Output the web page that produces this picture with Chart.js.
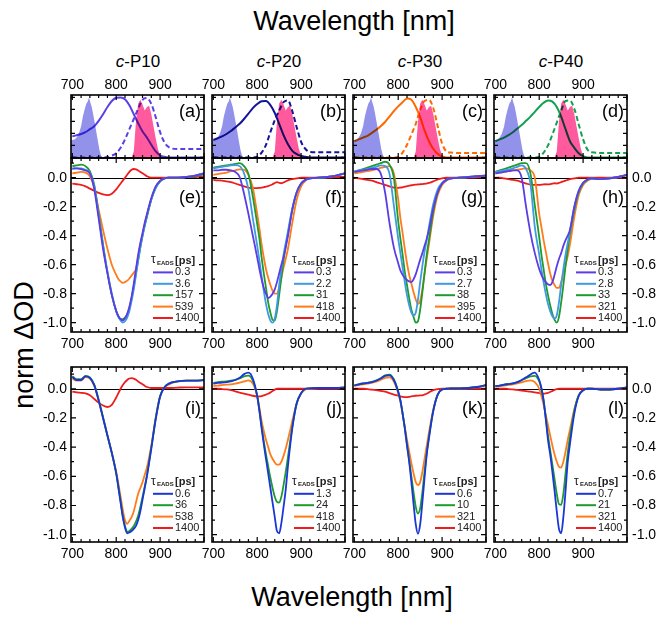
<!DOCTYPE html>
<html><head><meta charset="utf-8">
<script src="https://cdn.jsdelivr.net/npm/chart.js@4.4.0/dist/chart.umd.min.js"></script>
<style>
html,body{margin:0;padding:0;background:#fff;}
body{width:661px;height:620px;position:relative;overflow:hidden;font-family:"Liberation Sans",Arial,sans-serif;}
canvas{position:absolute;}
.t{position:absolute;color:#000;white-space:nowrap;transform:translate(-50%,-50%);line-height:1;}
</style></head><body>
<div class="t" style="left:354px;top:21px;font-size:27px">Wavelength [nm]</div>
<div class="t" style="left:352px;top:597px;font-size:27px">Wavelength [nm]</div>
<div class="t" style="left:24px;top:345px;font-size:27px;transform:translate(-50%,-50%) rotate(-90deg)">norm ΔOD</div>
<div class="t" style="left:138px;top:61px;font-size:17px"><i>c</i>-P10</div>
<div class="t" style="left:279px;top:61px;font-size:17px"><i>c</i>-P20</div>
<div class="t" style="left:420px;top:61px;font-size:17px"><i>c</i>-P30</div>
<div class="t" style="left:561px;top:61px;font-size:17px"><i>c</i>-P40</div>
<script>
// ---------- data ----------
const W = [700,710,720,730,740,750,760,770,780,790,800,805,810,815,820,825,830,835,840,845,850,855,860,865,870,880,890,900,910,920,940,960,980,1000];
const W1 = [700,710,720,730,740,750,760,770,780,790,800,810,820,830,840,850,860,870,880,890,900,910,920,940,960,980,1000];

// top row: absorption (solid) and emission (dashed)
const A_ABS = [0.35,0.37,0.39,0.42,0.47,0.52,0.61,0.72,0.84,0.94,0.995,1.0,0.97,0.87,0.72,0.57,0.43,0.33,0.21,0.10,0.035,0.01,0,0,0,0,0];
const A_EM  = [0,0,0,0,0,0,0,0,0.005,0.03,0.07,0.16,0.30,0.47,0.64,0.81,0.96,0.99,0.89,0.67,0.42,0.25,0.17,0.14,0.14,0.14,0.14];
const B_ABS = [0.29,0.32,0.35,0.39,0.44,0.50,0.56,0.64,0.73,0.82,0.89,0.935,0.94,0.87,0.74,0.56,0.37,0.22,0.11,0.055,0.025,0.01,0,0,0,0,0];
const B_EM  = [0,0,0,0,0,0,0,0,0,0,0.01,0.08,0.21,0.42,0.62,0.78,0.92,0.95,0.77,0.50,0.26,0.14,0.09,0.085,0.085,0.085,0.085];
const C_ABS = [0.27,0.30,0.33,0.36,0.41,0.46,0.52,0.59,0.68,0.77,0.85,0.92,0.98,0.96,0.84,0.67,0.45,0.27,0.14,0.06,0.015,0,0,0,0,0,0];
const C_EM  = [0,0,0,0,0,0,0,0,0,0,0.01,0.08,0.21,0.38,0.56,0.79,0.94,0.96,0.82,0.52,0.23,0.10,0.08,0.075,0.075,0.075,0.075];
const D_ABS = [0.27,0.30,0.33,0.37,0.42,0.48,0.54,0.61,0.68,0.76,0.84,0.91,0.95,0.93,0.84,0.68,0.47,0.27,0.16,0.07,0.02,0,0,0,0,0,0];
const D_EM  = [0,0,0,0,0,0,0,0,0,0,0.01,0.08,0.20,0.38,0.58,0.78,0.94,0.95,0.81,0.55,0.30,0.13,0.085,0.075,0.075,0.075,0.075];

// pump spectra (filled)
const WB = [697,700,705,710,715,720,724,728,732,735,738,741,744,747,750,753,756,759,762,765,768];
const BLUE_FILL = [0.28,0.29,0.30,0.33,0.40,0.52,0.68,0.80,0.90,0.93,1.0,0.92,0.85,0.74,0.62,0.50,0.37,0.24,0.12,0.04,0];
const WP = [835,840,845,850,855,860,865,870,875,880,885,890,895,900,905];
const PINK_FILL = [0,0.1,0.6,0.9,0.96,0.88,0.78,0.84,0.86,0.72,0.52,0.32,0.14,0.03,0];

// EADS lifetimes (legend labels)
const TAU_E = ['0.3','3.6','157','539','1400'];
const TAU_F = ['0.3','2.2','31','418','1400'];
const TAU_G = ['0.3','2.7','38','395','1400'];
const TAU_H = ['0.3','2.8','33','321','1400'];
const TAU_I = ['0.6','36','538','1400'];
const TAU_J = ['1.3','24','418','1400'];
const TAU_K = ['0.6','10','321','1400'];
const TAU_L = ['0.7','21','321','1400'];

// middle row EADS
const E_03   = [0.065,0.065,0.06,0.05,0.03,-0.08,-0.28,-0.49,-0.66,-0.81,-0.92,-0.955,-0.975,-0.985,-0.97,-0.94,-0.89,-0.82,-0.73,-0.63,-0.53,-0.45,-0.38,-0.31,-0.25,-0.14,-0.06,-0.02,-0.005,0,0,0.005,0.015,0.03];
const E_36   = [0.06,0.065,0.065,0.055,0.035,-0.06,-0.26,-0.47,-0.65,-0.80,-0.92,-0.96,-0.985,-1.0,-0.99,-0.965,-0.92,-0.85,-0.77,-0.67,-0.57,-0.48,-0.40,-0.33,-0.26,-0.15,-0.07,-0.025,-0.005,0,0,0.005,0.015,0.03];
const E_157  = [0.08,0.085,0.09,0.08,0.045,-0.05,-0.25,-0.46,-0.65,-0.81,-0.92,-0.955,-0.975,-0.975,-0.965,-0.94,-0.90,-0.83,-0.75,-0.66,-0.57,-0.48,-0.40,-0.33,-0.27,-0.15,-0.07,-0.025,-0.005,0,0,0.005,0.01,0.025];
const E_539  = [0.03,0.035,0.04,0.035,0.01,-0.07,-0.22,-0.36,-0.49,-0.60,-0.67,-0.70,-0.715,-0.725,-0.72,-0.71,-0.695,-0.675,-0.655,-0.63,-0.55,-0.46,-0.39,-0.32,-0.26,-0.145,-0.065,-0.025,-0.005,0,0,0.005,0.015,0.03];
const E_1400 = [-0.04,-0.045,-0.05,-0.06,-0.075,-0.09,-0.105,-0.115,-0.12,-0.11,-0.08,-0.06,-0.04,-0.02,0.0,0.02,0.04,0.055,0.06,0.058,0.05,0.04,0.03,0.02,0.01,0,0,0,0,0,0,0.005,0.005,0.01];

const F_03   = [0.05,0.05,0.055,0.055,0.05,0.04,0.005,-0.11,-0.25,-0.40,-0.55,-0.63,-0.70,-0.76,-0.80,-0.83,-0.82,-0.80,-0.77,-0.72,-0.66,-0.60,-0.55,-0.48,-0.40,-0.22,-0.10,-0.04,-0.015,-0.005,0,0.005,0.015,0.03];
const F_22   = [0.065,0.07,0.075,0.08,0.085,0.087,0.08,0.03,-0.08,-0.28,-0.47,-0.57,-0.68,-0.78,-0.87,-0.94,-0.985,-1.0,-0.97,-0.88,-0.74,-0.63,-0.53,-0.45,-0.37,-0.21,-0.10,-0.04,-0.015,-0.005,0,0.005,0.015,0.03];
const F_31   = [0.07,0.075,0.08,0.085,0.09,0.095,0.10,0.08,0.025,-0.13,-0.32,-0.42,-0.55,-0.66,-0.76,-0.86,-0.93,-0.98,-0.985,-0.92,-0.81,-0.69,-0.57,-0.47,-0.39,-0.22,-0.10,-0.04,-0.015,-0.005,0,0.005,0.015,0.03];
const F_418  = [0.02,0.025,0.03,0.035,0.045,0.05,0.058,0.055,0.02,-0.07,-0.25,-0.35,-0.46,-0.55,-0.63,-0.69,-0.74,-0.78,-0.80,-0.80,-0.76,-0.69,-0.62,-0.56,-0.49,-0.31,-0.15,-0.06,-0.02,-0.005,0,0.005,0.015,0.03];
const F_1400 = [-0.015,-0.018,-0.02,-0.025,-0.03,-0.04,-0.05,-0.06,-0.068,-0.072,-0.072,-0.07,-0.068,-0.065,-0.062,-0.058,-0.052,-0.045,-0.036,-0.03,-0.035,-0.038,-0.032,-0.025,-0.018,-0.01,-0.005,0,0,0,0,0,0.005,0.005];

const G_03   = [0.04,0.045,0.05,0.055,0.06,0.06,0.03,-0.10,-0.31,-0.48,-0.59,-0.64,-0.67,-0.69,-0.705,-0.715,-0.72,-0.70,-0.665,-0.615,-0.565,-0.52,-0.47,-0.42,-0.36,-0.21,-0.10,-0.04,-0.015,-0.005,0,0.005,0.01,0.015];
const G_27   = [0.045,0.05,0.055,0.06,0.07,0.075,0.085,0.08,0.03,-0.19,-0.42,-0.52,-0.62,-0.72,-0.81,-0.88,-0.93,-0.95,-0.93,-0.84,-0.72,-0.61,-0.51,-0.43,-0.34,-0.18,-0.08,-0.035,-0.012,-0.004,0,0.005,0.01,0.015];
const G_38   = [0.04,0.05,0.06,0.07,0.08,0.09,0.10,0.11,0.09,0.0,-0.30,-0.42,-0.53,-0.65,-0.74,-0.83,-0.91,-0.96,-1.0,-0.99,-0.91,-0.79,-0.66,-0.53,-0.43,-0.23,-0.10,-0.04,-0.015,-0.005,0,0.005,0.01,0.015];
const G_395  = [0.03,0.035,0.04,0.045,0.05,0.06,0.068,0.075,0.08,0.03,-0.15,-0.28,-0.38,-0.49,-0.59,-0.67,-0.73,-0.79,-0.84,-0.87,-0.85,-0.77,-0.66,-0.56,-0.46,-0.26,-0.12,-0.05,-0.02,-0.006,0,0.005,0.01,0.015];
const G_1400 = [0,-0.005,-0.01,-0.015,-0.02,-0.03,-0.04,-0.05,-0.06,-0.068,-0.07,-0.068,-0.066,-0.062,-0.058,-0.055,-0.052,-0.05,-0.048,-0.046,-0.045,-0.044,-0.042,-0.04,-0.036,-0.025,-0.012,-0.004,0,0,0,0,0.003,0.005];

const H_03   = [0.03,0.035,0.04,0.045,0.05,0.05,0.0,-0.20,-0.38,-0.52,-0.63,-0.67,-0.70,-0.72,-0.735,-0.74,-0.72,-0.67,-0.61,-0.56,-0.52,-0.47,-0.43,-0.40,-0.36,-0.20,-0.09,-0.035,-0.012,-0.005,-0.01,-0.005,0.005,0.02];
const H_28   = [0.04,0.045,0.05,0.055,0.065,0.075,0.085,0.06,-0.04,-0.34,-0.53,-0.63,-0.72,-0.80,-0.87,-0.92,-0.955,-0.97,-0.95,-0.86,-0.74,-0.63,-0.53,-0.45,-0.37,-0.20,-0.09,-0.035,-0.012,-0.005,-0.01,-0.005,0.005,0.02];
const H_33   = [0.04,0.05,0.06,0.07,0.08,0.09,0.10,0.10,0.03,-0.19,-0.41,-0.53,-0.63,-0.73,-0.81,-0.88,-0.94,-0.98,-1.0,-0.96,-0.86,-0.74,-0.61,-0.49,-0.39,-0.22,-0.10,-0.04,-0.015,-0.005,-0.01,-0.005,0.005,0.02];
const H_321  = [0.03,0.035,0.04,0.045,0.05,0.055,0.06,0.065,0.05,0.0,-0.25,-0.34,-0.43,-0.51,-0.59,-0.66,-0.71,-0.74,-0.76,-0.76,-0.72,-0.66,-0.60,-0.54,-0.46,-0.27,-0.12,-0.05,-0.02,-0.007,-0.01,-0.005,0.005,0.02];
const H_1400 = [0,0,-0.005,-0.01,-0.015,-0.02,-0.03,-0.04,-0.048,-0.05,-0.05,-0.048,-0.046,-0.045,-0.046,-0.044,-0.04,-0.038,-0.04,-0.036,-0.03,-0.025,-0.02,-0.015,-0.01,-0.005,0,0,0,0,0,0,0,0];

// bottom row EADS
const I_06   = [0.08,0.06,0.06,0.085,0.075,0.025,-0.08,-0.20,-0.32,-0.44,-0.58,-0.68,-0.78,-0.88,-0.95,-0.99,-0.985,-0.975,-0.96,-0.94,-0.90,-0.84,-0.76,-0.68,-0.60,-0.41,-0.21,-0.055,0.01,0.035,0.05,0.055,0.055,0.06];
const I_36   = [0.085,0.065,0.065,0.088,0.078,0.028,-0.075,-0.195,-0.32,-0.44,-0.58,-0.67,-0.77,-0.87,-0.94,-0.98,-0.975,-0.96,-0.94,-0.91,-0.87,-0.81,-0.74,-0.67,-0.59,-0.40,-0.20,-0.05,0.01,0.035,0.05,0.055,0.055,0.06];
const I_538  = [0.07,0.055,0.055,0.08,0.07,0.02,-0.08,-0.20,-0.32,-0.44,-0.57,-0.65,-0.74,-0.83,-0.90,-0.925,-0.905,-0.88,-0.84,-0.78,-0.72,-0.68,-0.64,-0.59,-0.54,-0.39,-0.20,-0.05,0.01,0.03,0.05,0.055,0.055,0.06];
const I_1400 = [-0.02,-0.025,-0.028,-0.032,-0.045,-0.07,-0.095,-0.115,-0.125,-0.11,-0.06,-0.03,0.0,0.025,0.045,0.06,0.07,0.073,0.07,0.062,0.05,0.04,0.03,0.02,0.012,0.005,0.005,0.005,0.005,0.005,0.008,0.01,0.01,0.01];

const J_13   = [0.035,0.04,0.042,0.045,0.05,0.06,0.075,0.10,0.11,0.07,-0.05,-0.15,-0.27,-0.38,-0.48,-0.58,-0.68,-0.78,-0.88,-0.975,-0.99,-0.92,-0.81,-0.69,-0.53,-0.27,-0.10,-0.03,0,0.003,0.005,0.005,0.005,0.01];
const J_24   = [0.04,0.045,0.048,0.05,0.055,0.06,0.07,0.085,0.09,0.055,-0.05,-0.15,-0.26,-0.36,-0.45,-0.53,-0.61,-0.68,-0.74,-0.775,-0.78,-0.74,-0.66,-0.57,-0.47,-0.26,-0.10,-0.03,0,0.003,0.005,0.005,0.005,0.01];
const J_418  = [0.02,0.022,0.025,0.028,0.03,0.035,0.042,0.05,0.057,0.035,-0.05,-0.13,-0.22,-0.29,-0.35,-0.40,-0.45,-0.48,-0.505,-0.52,-0.52,-0.50,-0.46,-0.41,-0.35,-0.22,-0.10,-0.035,-0.005,0,0.005,0.005,0.005,0.01];
const J_1400 = [0,0,-0.002,-0.005,-0.01,-0.018,-0.027,-0.034,-0.04,-0.048,-0.052,-0.052,-0.05,-0.045,-0.04,-0.034,-0.025,-0.015,-0.006,0,0,0,0,0,0,0,0,0,0,0,0,0,0,0.005];

const K_06   = [0.023,0.03,0.036,0.04,0.045,0.055,0.07,0.088,0.092,0.06,-0.02,-0.08,-0.17,-0.27,-0.39,-0.50,-0.64,-0.79,-0.93,-0.995,-0.93,-0.78,-0.61,-0.45,-0.34,-0.15,-0.04,-0.005,0,0.003,0.003,0.005,0.012,0.025];
const K_10   = [0.023,0.03,0.036,0.04,0.047,0.057,0.072,0.092,0.097,0.065,-0.02,-0.08,-0.17,-0.27,-0.38,-0.49,-0.60,-0.71,-0.81,-0.855,-0.82,-0.71,-0.57,-0.44,-0.33,-0.15,-0.04,-0.005,0,0.003,0.003,0.005,0.012,0.025];
const K_321  = [0.02,0.025,0.03,0.035,0.04,0.048,0.06,0.075,0.078,0.05,-0.03,-0.09,-0.17,-0.26,-0.35,-0.43,-0.51,-0.58,-0.64,-0.66,-0.64,-0.57,-0.48,-0.39,-0.30,-0.14,-0.04,-0.005,0,0.003,0.003,0.005,0.012,0.025];
const K_1400 = [0,0,0,-0.003,-0.006,-0.01,-0.015,-0.02,-0.03,-0.04,-0.047,-0.052,-0.055,-0.057,-0.057,-0.055,-0.052,-0.05,-0.048,-0.047,-0.046,-0.045,-0.04,-0.034,-0.025,-0.01,-0.003,0,0,0,0,0,0,0];

const L_07   = [0.018,0.022,0.028,0.032,0.036,0.045,0.06,0.078,0.098,0.11,0.06,0.005,-0.08,-0.21,-0.35,-0.45,-0.57,-0.70,-0.84,-0.96,-0.99,-0.88,-0.70,-0.50,-0.38,-0.17,-0.05,-0.01,0,0,-0.005,-0.005,0,0.01];
const L_21   = [0.018,0.022,0.028,0.032,0.036,0.045,0.058,0.072,0.085,0.088,0.05,0.0,-0.08,-0.20,-0.32,-0.42,-0.52,-0.62,-0.72,-0.79,-0.795,-0.72,-0.58,-0.44,-0.33,-0.15,-0.045,-0.01,0,0,-0.005,-0.005,0,0.01];
const L_321  = [0.015,0.018,0.022,0.026,0.03,0.036,0.044,0.052,0.057,0.045,0.0,-0.05,-0.11,-0.18,-0.25,-0.32,-0.39,-0.45,-0.50,-0.535,-0.54,-0.50,-0.43,-0.35,-0.28,-0.14,-0.045,-0.01,0,0,-0.005,-0.005,0,0.01];
const L_1400 = [0,0,0,-0.002,-0.005,-0.008,-0.012,-0.016,-0.02,-0.025,-0.03,-0.033,-0.034,-0.032,-0.028,-0.022,-0.015,-0.008,-0.003,0,0,0,0,0,0,0,0,0,0,0,0,0,0,0];

// tick labels
const X_TICK_LABELS = [700, 800, 900];
const Y_TICK_LABELS = [0, -0.2, -0.4, -0.6, -0.8, -1.0];

// ---------- styling / layout ----------
const FONT = '"Liberation Sans", Arial, sans-serif';
const COLS = [71, 212, 353, 494];
const PANEL_W = 133;
const ROWS = [
  {top: 95,  bottom: 158, min: -0.01,  max: 1.04},
  {top: 158, bottom: 332, min: -1.064, max: 0.136},
  {top: 367, bottom: 542, min: -1.05,  max: 0.149}
];
const PAD = {left: 45, right: 45, top: 30, bottom: 26};
const C_VIOLET = '#5a3de6', C_LBLUE = '#3f9ae2', C_GREEN = '#1f9a2e', C_ORANGE = '#ff7b1c', C_RED = '#ee1c1c', C_BLUE = '#1a36d8';
const MID_COLORS = [C_VIOLET, C_LBLUE, C_GREEN, C_ORANGE, C_RED];
const BOT_COLORS = [C_BLUE, C_GREEN, C_ORANGE, C_RED];
const FILL_BLUE = '#9292ea';
const FILL_PINK = '#ff5a9e';

const pts = (xs, ys) => xs.map((x, i) => ({x, y: ys[i]}));

const deco = {
  id: 'deco',
  // datasets are painted from the last index to the first; once the line just
  // above a "multiply" fill has been drawn, switch to multiply blending so the
  // pump-spectrum fills tint the lines underneath them
  afterDatasetDraw(chart, args) {
    const next = chart.data.datasets[args.index - 1];
    chart.ctx.globalCompositeOperation = (next && next.multiply) ? 'multiply' : 'source-over';
  },
  beforeDatasetsDraw(chart, args, o) {
    const {ctx, chartArea: a, scales: {y}} = chart;
    ctx.globalCompositeOperation = 'source-over';
    if (!o.zero) return;
    const py = Math.round(y.getPixelForValue(0)) + 0.5;
    ctx.save(); ctx.strokeStyle = '#000'; ctx.lineWidth = 1.2;
    ctx.beginPath(); ctx.moveTo(a.left, py); ctx.lineTo(a.right, py); ctx.stroke(); ctx.restore();
  },
  afterDatasetsDraw(chart, args, o) {
    const {ctx, chartArea: a, scales: {x, y}} = chart;
    ctx.globalCompositeOperation = 'source-over';
    ctx.save();
    ctx.strokeStyle = '#000';
    ctx.lineWidth = 1.2;
    ctx.beginPath();
    for (let v = 700; v <= 1000; v += 20) {
      const px = x.getPixelForValue(v), len = (v % 100 === 0) ? 5 : 3;
      ctx.moveTo(px, a.bottom); ctx.lineTo(px, a.bottom - len);
      ctx.moveTo(px, a.top); ctx.lineTo(px, a.top + len);
    }
    if (o.row === 0) {
      for (let k = 0; k <= 5; k++) {
        const py = y.getPixelForValue(k * 0.2);
        ctx.moveTo(a.left, py); ctx.lineTo(a.left + 4, py);
        ctx.moveTo(a.right, py); ctx.lineTo(a.right - 4, py);
      }
    } else {
      for (let k = -10; k <= 1; k++) {
        const py = y.getPixelForValue(k / 10), len = (k % 2 === 0) ? 5 : 3;
        ctx.moveTo(a.left, py); ctx.lineTo(a.left + len, py);
        ctx.moveTo(a.right, py); ctx.lineTo(a.right - len, py);
      }
    }
    ctx.stroke();
    ctx.lineWidth = 1.6;
    ctx.strokeRect(a.left, a.top, a.right - a.left, a.bottom - a.top);

    ctx.fillStyle = '#000';
    ctx.font = '14px ' + FONT;
    if (o.top) {
      ctx.textAlign = 'center'; ctx.textBaseline = 'middle';
      X_TICK_LABELS.forEach(v => ctx.fillText(String(v), x.getPixelForValue(v), a.top - 10));
    }
    if (o.bottom) {
      ctx.textAlign = 'center'; ctx.textBaseline = 'middle';
      X_TICK_LABELS.forEach(v => ctx.fillText(String(v), x.getPixelForValue(v), a.bottom + 12));
    }
    if (o.left) {
      ctx.textAlign = 'right'; ctx.textBaseline = 'middle';
      Y_TICK_LABELS.forEach(v => ctx.fillText(v.toFixed(1), a.left - 4, y.getPixelForValue(v)));
    }
    if (o.right) {
      ctx.textAlign = 'left'; ctx.textBaseline = 'middle';
      Y_TICK_LABELS.forEach(v => ctx.fillText(v.toFixed(1), a.right + 5, y.getPixelForValue(v)));
    }
    // panel letter
    ctx.font = '18px ' + FONT;
    ctx.textAlign = 'right'; ctx.textBaseline = 'middle';
    ctx.fillText(o.label, a.right - 3, a.top + o.labelDy);
    // legend
    if (o.legend) {
      const ds = chart.data.datasets;
      const n = ds.length;
      const step = 11.4;
      ds.forEach((d, i) => {
        const cy = a.bottom - 14 - (n - 1 - i) * step;
        ctx.strokeStyle = d.borderColor; ctx.lineWidth = 2;
        ctx.beginPath(); ctx.moveTo(a.right - 51, cy); ctx.lineTo(a.right - 31, cy); ctx.stroke();
        ctx.fillStyle = '#222'; ctx.font = '11px ' + FONT;
        ctx.textAlign = 'left'; ctx.textBaseline = 'middle';
        ctx.fillText(d.label, a.right - 29, cy);
      });
      const ty = a.bottom - 14 - n * step;
      const tx = a.right - 53;
      ctx.fillStyle = '#222'; ctx.textAlign = 'left'; ctx.textBaseline = 'middle';
      ctx.font = '12px ' + FONT; ctx.fillText('τ', tx, ty - 1);
      ctx.font = 'bold 6px ' + FONT; ctx.fillText('EADS', tx + 6, ty + 2);
      ctx.font = 'bold 11px ' + FONT; ctx.fillText('[ps]', tx + 24, ty);
    }
    ctx.restore();
  }
};

function makePanel(col, row, datasets, deco_opts) {
  const R = ROWS[row];
  const w = PANEL_W, h = R.bottom - R.top;
  const cv = document.createElement('canvas');
  const cw = w + PAD.left + PAD.right, ch = h + PAD.top + PAD.bottom;
  cv.width = cw; cv.height = ch;
  cv.style.width = cw + 'px'; cv.style.height = ch + 'px';
  cv.style.left = (COLS[col] - PAD.left) + 'px';
  cv.style.top = (R.top - PAD.top) + 'px';
  document.body.appendChild(cv);
  new Chart(cv, {
    type: 'line',
    data: {datasets},
    options: {
      responsive: false, animation: false,
      layout: {padding: PAD},
      elements: {point: {radius: 0}, line: {cubicInterpolationMode: 'monotone', borderWidth: 1.8}},
      plugins: {legend: {display: false}, tooltip: {enabled: false}, deco: Object.assign({row}, deco_opts)},
      scales: {
        x: {type: 'linear', min: 697, max: 1000, display: false},
        y: {type: 'linear', min: R.min, max: R.max, display: false}
      }
    },
    plugins: [deco]
  });
}

function topPanel(col, abs, em, color, label) {
  makePanel(col, 0, [
    // fills listed first so they are painted last, multiplied over the lines
    {data: pts(WB, BLUE_FILL), borderWidth: 0, borderColor: 'rgba(0,0,0,0)', backgroundColor: FILL_BLUE, fill: 'origin', cubicInterpolationMode: 'default', tension: 0, multiply: true},
    {data: pts(WP, PINK_FILL), borderWidth: 0, borderColor: 'rgba(0,0,0,0)', backgroundColor: FILL_PINK, fill: 'origin', cubicInterpolationMode: 'default', tension: 0, multiply: true},
    {data: pts(W1, abs), borderColor: color, borderWidth: 2, fill: false},
    {data: pts(W1, em), borderColor: color, borderWidth: 2, borderDash: [5, 3], fill: false}
  ], {label, labelDy: 17, top: true});
}

function eadsPanel(col, row, series, taus, colors, label, extra) {
  const ds = series.map((s, i) => ({label: taus[i], data: pts(W, s), borderColor: colors[i], fill: false}));
  makePanel(col, row, ds, Object.assign({label, labelDy: row === 1 ? 40 : 42, zero: true, legend: true, bottom: true}, extra));
}

topPanel(0, A_ABS, A_EM, '#5b3ee8', '(a)');
topPanel(1, B_ABS, B_EM, '#14149a', '(b)');
topPanel(2, C_ABS, C_EM, '#ff6a00', '(c)');
topPanel(3, D_ABS, D_EM, '#14a050', '(d)');

eadsPanel(0, 1, [E_03, E_36, E_157, E_539, E_1400], TAU_E, MID_COLORS, '(e)', {left: true});
eadsPanel(1, 1, [F_03, F_22, F_31, F_418, F_1400], TAU_F, MID_COLORS, '(f)', {});
eadsPanel(2, 1, [G_03, G_27, G_38, G_395, G_1400], TAU_G, MID_COLORS, '(g)', {});
eadsPanel(3, 1, [H_03, H_28, H_33, H_321, H_1400], TAU_H, MID_COLORS, '(h)', {right: true});

eadsPanel(0, 2, [I_06, I_36, I_538, I_1400], TAU_I, BOT_COLORS, '(i)', {left: true});
eadsPanel(1, 2, [J_13, J_24, J_418, J_1400], TAU_J, BOT_COLORS, '(j)', {});
eadsPanel(2, 2, [K_06, K_10, K_321, K_1400], TAU_K, BOT_COLORS, '(k)', {});
eadsPanel(3, 2, [L_07, L_21, L_321, L_1400], TAU_L, BOT_COLORS, '(l)', {right: true});
</script>
</body></html>
